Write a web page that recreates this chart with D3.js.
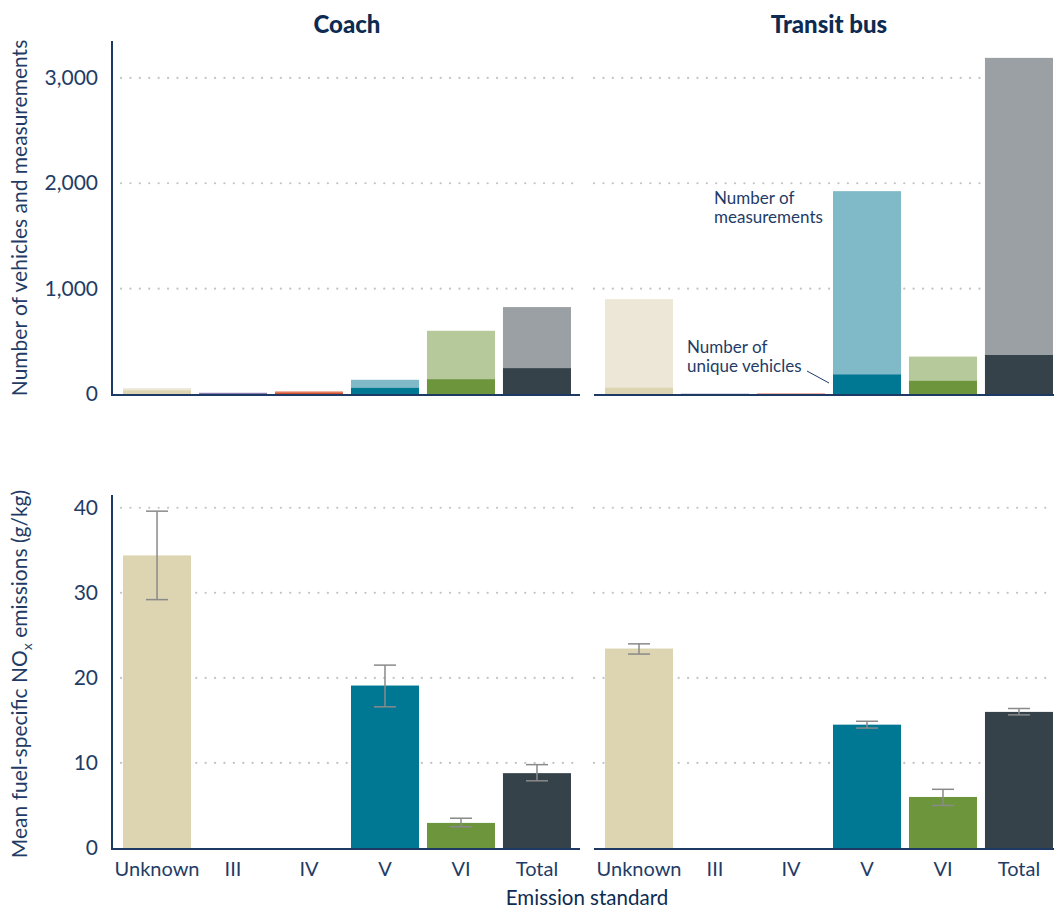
<!DOCTYPE html>
<html>
<head>
<meta charset="utf-8">
<script src="https://cdnjs.cloudflare.com/ajax/libs/d3/7.8.5/d3.min.js"></script>
<style>
  body { margin: 0; background: #fff; }
  text { font-family: Lato, "Open Sans", sans-serif; }
</style>
</head>
<body>
<div id="chart"></div>
<script>
var standards = ["Unknown", "III", "IV", "V", "VI", "Total"];
var panels = ["Coach", "Transit bus"];

// counts (top row)
var coachMeasurements = [55, 12, 25, 135, 600, 825];
var coachVehicles = [35, 3, 12, 58, 140, 245];
var transitMeasurements = [900, 2, 4, 1925, 355, 3190];
var transitVehicles = [60, 1, 2, 185, 125, 370];

// mean NOx with error bar ends (bottom row)
var coachNOx = [34.4, null, null, 19.1, 2.95, 8.8];
var coachNOxLow = [29.2, null, null, 16.6, 2.5, 7.9];
var coachNOxHigh = [39.6, null, null, 21.5, 3.5, 9.8];
var transitNOx = [23.45, null, null, 14.5, 6.0, 16.0];
var transitNOxLow = [22.8, null, null, 14.1, 5.0, 15.65];
var transitNOxHigh = [24.0, null, null, 14.9, 6.9, 16.4];

var countTicks = [0, 1000, 2000, 3000];
var noxTicks = [0, 10, 20, 30, 40];

var lightColors = ["#ede7d7", "#a393bf", "#ea8a6f", "#80b9c8", "#b6c99b", "#9ba0a4"];
var darkColors = ["#ddd5b1", "#4a4a86", "#d0502f", "#007894", "#6d963c", "#35424a"];

var width = 1054, height = 908;
var navy = "#1c3a64", textCol = "#1f3c66", gridCol = "#c4c4c4";

var svg = d3.select("#chart").append("svg")
    .attr("width", width)
    .attr("height", height);

var cols = [[112, 582], [594, 1064]];

var xScales = cols.map(function(r) {
  return d3.scaleBand().domain(standards).range(r).paddingInner(0.105).paddingOuter(0.145);
});

var yTop = d3.scaleLinear().domain([0, 3350]).range([394, 41]);
var yBot = d3.scaleLinear().domain([0, 41.5]).range([848, 495]);

function grid(y, ticks, ci) {
  svg.append("g").selectAll("line")
    .data(ticks.filter(function(t) { return t > 0; }))
    .enter().append("line")
      .attr("x1", cols[ci][0] + (ci === 0 ? 9 : 0))
      .attr("x2", ci === 0 ? 580 : width)
      .attr("y1", function(d) { return y(d); })
      .attr("y2", function(d) { return y(d); })
      .attr("stroke", gridCol)
      .attr("stroke-width", 2.2)
      .attr("stroke-linecap", "round")
      .attr("stroke-dasharray", "0.1 9.3");
}

// ---- top row: vehicles drawn over measurements
var counts = [[coachMeasurements, coachVehicles], [transitMeasurements, transitVehicles]];
counts.forEach(function(c, ci) {
  var x = xScales[ci];
  grid(yTop, countTicks, ci);
  var g = svg.append("g");
  g.selectAll("rect.meas").data(c[0]).enter().append("rect")
    .attr("x", function(d, i) { return x(standards[i]); })
    .attr("width", x.bandwidth())
    .attr("y", function(d) { return yTop(d); })
    .attr("height", function(d) { return yTop(0) - yTop(d); })
    .attr("fill", function(d, i) { return lightColors[i]; });
  g.selectAll("rect.veh").data(c[1]).enter().append("rect")
    .attr("x", function(d, i) { return x(standards[i]); })
    .attr("width", x.bandwidth())
    .attr("y", function(d) { return yTop(d); })
    .attr("height", function(d) { return yTop(0) - yTop(d); })
    .attr("fill", function(d, i) { return darkColors[i]; });
  svg.append("line")
    .attr("x1", cols[ci][0]).attr("x2", ci === 0 ? 580 : width)
    .attr("y1", yTop(0) + 1).attr("y2", yTop(0) + 1)
    .attr("stroke", navy).attr("stroke-width", 2);
});

// ---- bottom row: mean NOx with error bars
var nox = [[coachNOx, coachNOxLow, coachNOxHigh], [transitNOx, transitNOxLow, transitNOxHigh]];
nox.forEach(function(n, ci) {
  var x = xScales[ci];
  grid(yBot, noxTicks, ci);
  var g = svg.append("g");
  var idx = d3.range(standards.length).filter(function(i) { return n[0][i] != null; });
  g.selectAll("rect").data(idx).enter().append("rect")
    .attr("x", function(i) { return x(standards[i]); })
    .attr("width", x.bandwidth())
    .attr("y", function(i) { return yBot(n[0][i]); })
    .attr("height", function(i) { return yBot(0) - yBot(n[0][i]); })
    .attr("fill", function(i) { return darkColors[i]; });
  var eb = g.selectAll("g.err").data(idx).enter().append("g")
    .attr("stroke", "#8a8a8a").attr("stroke-width", 1.5);
  eb.append("line")
    .attr("x1", function(i) { return x(standards[i]) + x.bandwidth() / 2; })
    .attr("x2", function(i) { return x(standards[i]) + x.bandwidth() / 2; })
    .attr("y1", function(i) { return yBot(n[1][i]); })
    .attr("y2", function(i) { return yBot(n[2][i]); });
  [1, 2].forEach(function(k) {
    eb.append("line")
      .attr("x1", function(i) { return x(standards[i]) + x.bandwidth() / 2 - 11; })
      .attr("x2", function(i) { return x(standards[i]) + x.bandwidth() / 2 + 11; })
      .attr("y1", function(i) { return yBot(n[k][i]); })
      .attr("y2", function(i) { return yBot(n[k][i]); });
  });
  svg.append("line")
    .attr("x1", cols[ci][0]).attr("x2", ci === 0 ? 580 : width)
    .attr("y1", yBot(0) + 1).attr("y2", yBot(0) + 1)
    .attr("stroke", navy).attr("stroke-width", 2);

  // category labels
  svg.append("g")
    .attr("transform", "translate(0," + (yBot(0) + 1) + ")")
    .call(d3.axisBottom(x).tickSize(0).tickPadding(13))
    .call(function(a) {
      a.select(".domain").remove();
      a.selectAll("text").attr("font-size", 20).attr("fill", textCol)
        .style("font-family", "Lato, sans-serif");
    });
});

// ---- left axes (coach column only)
function leftAxis(y, ticks, fmt) {
  svg.append("g")
    .attr("transform", "translate(" + (cols[0][0]) + ",0)")
    .call(d3.axisLeft(y).tickValues(ticks).tickSize(0).tickPadding(14).tickFormat(fmt))
    .call(function(a) {
      a.select(".domain").attr("stroke", navy).attr("stroke-width", 2)
        .attr("d", "M0," + y.range()[1] + "V" + (y.range()[0] + 2));
      a.selectAll("text").attr("font-size", 21).attr("fill", textCol)
        .style("font-family", "Lato, sans-serif");
    });
}
leftAxis(yTop, countTicks, d3.format(","));
leftAxis(yBot, noxTicks, d3.format("d"));

// ---- titles
svg.selectAll("text.panel").data(panels).enter().append("text")
  .attr("x", function(d, i) { return (cols[i][0] + cols[i][1]) / 2; })
  .attr("y", 33)
  .attr("text-anchor", "middle")
  .attr("font-size", 24)
  .attr("font-weight", 900)
  .attr("fill", "#0d2b52")
  .text(function(d) { return d; });

svg.append("text")
  .attr("transform", "translate(27,218) rotate(-90)")
  .attr("text-anchor", "middle")
  .attr("font-size", 21)
  .attr("fill", textCol)
  .text("Number of vehicles and measurements");

var yt = svg.append("text")
  .attr("transform", "translate(27,674) rotate(-90)")
  .attr("text-anchor", "middle")
  .attr("font-size", 21)
  .attr("fill", textCol);
yt.append("tspan").text("Mean fuel-specific NO");
yt.append("tspan").attr("font-size", 14).attr("dy", 5).text("x");
yt.append("tspan").attr("dy", -5).text(" emissions (g/kg)");

svg.append("text")
  .attr("x", 587).attr("y", 905)
  .attr("text-anchor", "middle")
  .attr("font-size", 20.5)
  .attr("fill", "#0d2b52")
  .text("Emission standard");

// ---- annotations
function note(x, y, lines) {
  lines.forEach(function(l, i) {
    svg.append("text").attr("font-size", 17).attr("fill", textCol)
      .attr("x", x).attr("y", y + i * 19).text(l);
  });
}
note(714, 204, ["Number of", "measurements"]);
note(687, 353, ["Number of", "unique vehicles"]);
svg.append("line")
  .attr("x1", 807).attr("y1", 371).attr("x2", 829).attr("y2", 383)
  .attr("stroke", textCol).attr("stroke-width", 1);
</script>
</body>
</html>
